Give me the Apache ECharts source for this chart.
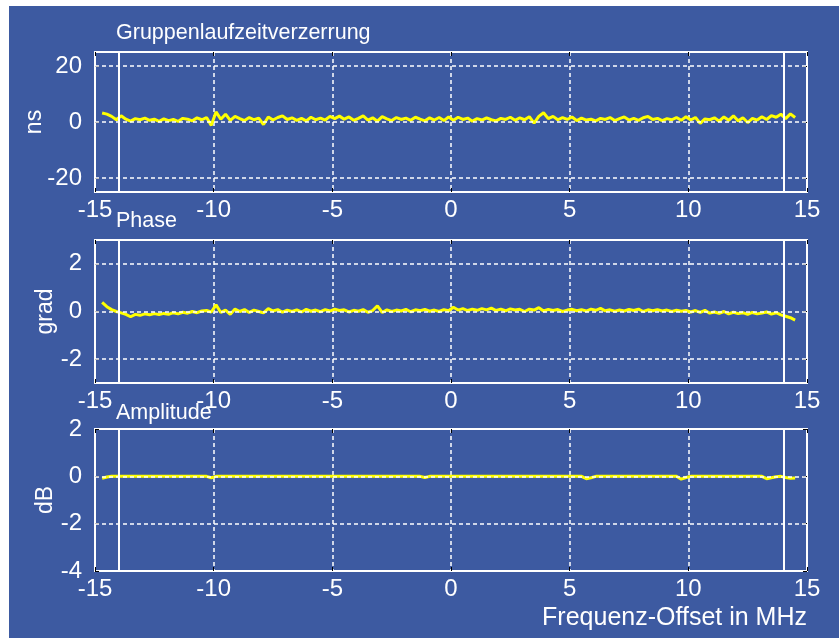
<!DOCTYPE html>
<html>
<head>
<meta charset="utf-8">
<script src="https://cdn.jsdelivr.net/npm/echarts@6/dist/echarts.min.js"></script>
<style>
html,body{margin:0;padding:0;background:#fff;}
#bg{position:absolute;left:9px;top:6px;width:830px;height:632px;background:#3d5aa1;}
#chart{position:absolute;left:0;top:0;width:839px;height:638px;}
</style>
</head>
<body>
<div id="bg"></div>
<div id="chart"></div>
<script>
// Frequency offsets (MHz)
const freq = [
  -14.7,-14.5,-14.3,-14.1,-13.9,-13.7,-13.5,-13.3,-13.1,-12.9,
  -12.7,-12.5,-12.3,-12.1,-11.9,-11.7,-11.5,-11.3,-11.1,-10.9,
  -10.7,-10.5,-10.3,-10.1,-9.9,-9.7,-9.5,-9.3,-9.1,-8.9,
  -8.7,-8.5,-8.3,-8.1,-7.9,-7.7,-7.5,-7.3,-7.1,-6.9,
  -6.7,-6.5,-6.3,-6.1,-5.9,-5.7,-5.5,-5.3,-5.1,-4.9,
  -4.7,-4.5,-4.3,-4.1,-3.9,-3.7,-3.5,-3.3,-3.1,-2.9,
  -2.7,-2.5,-2.3,-2.1,-1.9,-1.7,-1.5,-1.3,-1.1,-0.9,
  -0.7,-0.5,-0.3,-0.1,
  0.1,0.3,0.5,0.7,0.9,1.1,1.3,1.5,1.7,1.9,
  2.1,2.3,2.5,2.7,2.9,3.1,3.3,3.5,3.7,3.9,
  4.1,4.3,4.5,4.7,4.9,5.1,5.3,5.5,5.7,5.9,
  6.1,6.3,6.5,6.7,6.9,7.1,7.3,7.5,7.7,7.9,
  8.1,8.3,8.5,8.7,8.9,9.1,9.3,9.5,9.7,9.9,
  10.1,10.3,10.5,10.7,10.9,11.1,11.3,11.5,11.7,11.9,
  12.1,12.3,12.5,12.7,12.9,13.1,13.3,13.5,13.7,13.9,
  14.1,14.3,14.5
];
// Gruppenlaufzeitverzerrung (ns)
const groupDelay = [
  3.2,2.8,2.0,0.8,2.2,1.0,0.3,1.2,0.8,1.4,
  0.6,1.0,0.2,1.1,0.5,0.9,0.2,1.3,1.0,0.4,
  1.5,0.8,1.6,-1.2,3.6,1.0,2.8,0.6,2.0,1.2,
  0.5,1.6,0.8,1.4,-0.9,1.8,0.7,1.6,2.2,0.9,
  1.5,0.6,1.3,0.4,1.7,0.8,1.4,0.7,2.0,1.2,
  2.1,1.0,1.8,0.6,1.3,2.2,0.7,1.5,0.3,1.9,
  1.1,0.5,1.6,0.9,1.4,0.6,1.7,1.0,0.4,1.5,
  0.7,1.6,0.5,1.8,
  0.6,1.7,0.9,1.4,0.3,1.2,0.7,1.5,0.8,0.4,
  1.3,0.9,1.7,0.6,1.5,0.8,1.9,-0.4,2.0,3.3,
  1.2,2.0,0.8,1.6,0.9,1.8,0.5,1.4,0.7,1.0,
  0.4,1.3,0.9,1.6,0.5,1.2,1.8,0.7,1.3,0.6,
  1.5,2.0,0.9,1.3,0.5,1.2,0.8,1.6,0.6,1.9,
  0.7,1.6,-0.5,1.1,0.8,1.5,0.3,1.8,0.6,2.2,
  0.4,1.5,-0.2,1.3,0.7,1.9,0.9,2.3,1.7,2.8,
  1.2,2.9,1.6
];
// Phase (grad)
const phase = [
  0.38,0.2,0.08,0.0,-0.06,-0.12,-0.22,-0.12,-0.16,-0.1,
  -0.14,-0.09,-0.13,-0.08,-0.12,-0.05,-0.1,-0.03,-0.07,0.0,
  -0.05,0.02,0.04,-0.02,0.28,-0.04,0.06,-0.12,0.1,0.0,
  0.08,-0.04,0.06,0.0,-0.06,0.12,0.02,0.08,-0.03,0.06,
  0.0,0.07,-0.02,0.09,0.01,0.06,-0.01,0.08,0.02,0.1,
  0.04,0.07,-0.02,0.05,0.01,0.08,-0.03,0.04,0.24,-0.04,
  0.07,0.0,0.06,0.02,0.09,-0.01,0.07,0.03,0.09,0.01,
  0.06,0.0,0.08,0.03,
  0.18,0.06,0.12,0.04,0.1,0.05,0.12,0.07,0.14,0.04,
  0.1,0.03,0.11,0.06,0.09,0.0,0.1,0.06,0.16,0.02,
  0.09,0.04,0.08,0.0,0.06,0.09,0.03,0.08,0.02,0.1,
  0.05,0.13,0.03,0.07,0.01,0.06,0.02,0.09,0.04,0.1,
  0.0,0.07,0.03,0.08,0.02,0.06,0.0,0.05,0.01,0.04,
  -0.02,0.04,-0.04,0.05,-0.07,-0.02,-0.08,0.0,-0.1,-0.03,
  -0.09,-0.05,-0.12,-0.04,-0.1,-0.06,-0.02,-0.11,-0.05,-0.14,
  -0.2,-0.26,-0.36
];
// Amplitude (dB)
const amplitude = [
  -0.08,-0.03,0,0,0,0,0,0,0,0,
  0,0,0,0,0,0,0,0,0,0,
  0,0,0,-0.06,0,0,0,0,0,0,
  0,0,0,0,0,0,0,0,0,0,
  0,0,0,0,0,0,0,0,0,0,
  0,0,0,0,0,0,0,0,0,0,
  0,0,0,0,0,0,0,0,-0.05,0,
  0,0,0,0,
  0,0,0,0,0,0,0,0,0,0,
  0,0,0,0,0,0,0,0,0,0,
  0,0,0,0,0,0,0,0,-0.1,-0.06,
  0,0,0,0,0,0,0,0,0,0,
  0,0,0,0,0,0,0,0,-0.12,-0.05,
  0,0,0,0,0,0,0,0,0,0,
  0,0,0,0,0,0,-0.1,-0.06,-0.02,0,
  -0.05,-0.08,-0.07
];
const panelTitles = ['Gruppenlaufzeitverzerrung', 'Phase', 'Amplitude'];
const yNames = ['ns', 'grad', 'dB'];
const yTicks = [[-20, 0, 20], [-2, 0, 2], [-4, -2, 0, 2]];
const yRanges = [[-25, 25], [-3, 3], [-4, 2]];
const xTicks = [-15, -10, -5, 0, 5, 10, 15];
const markerFreqs = [-14, 14];
const xAxisTitle = 'Frequenz-Offset in MHz';

const FONT = 'Liberation Sans, Arial, sans-serif';
const WHITE = '#ffffff';
const grids = [
  {left: 95, top: 52, width: 712, height: 140},
  {left: 95, top: 240, width: 712, height: 143},
  {left: 95, top: 429, width: 712, height: 142}
].map(g => Object.assign(g, {show: true, borderColor: WHITE, borderWidth: 2, backgroundColor: 'transparent'}));

const dashStyle = {color: WHITE, width: 1.5, type: [4, 3]};
const blackTick = {show: true, inside: true, length: 4, lineStyle: {color: '#000', width: 1}};

const xAxes = [];
[0, 1, 2].forEach(i => {
  xAxes.push({
    type: 'value', gridIndex: i, min: -15, max: 15, interval: 5, position: 'bottom',
    axisLine: {show: false, onZero: false},
    axisTick: blackTick,
    axisLabel: {color: WHITE, fontSize: 24, fontFamily: FONT, margin: 6},
    splitLine: {show: true, showMinLine: false, showMaxLine: false, lineStyle: dashStyle}
  });
  xAxes.push({
    type: 'value', gridIndex: i, min: -15, max: 15, interval: 5, position: 'top',
    axisLine: {show: false, onZero: false},
    axisTick: blackTick,
    axisLabel: {show: false},
    splitLine: {show: false}
  });
});

const gaps = [49, 38, 38];
const yAxes = [];
[0, 1, 2].forEach(i => {
  yAxes.push({
    type: 'value', gridIndex: i, min: yRanges[i][0], max: yRanges[i][1], position: 'left',
    name: yNames[i], nameLocation: 'middle', nameRotate: 90, nameGap: gaps[i],
    nameMoveOverlap: false,
    nameTextStyle: {color: WHITE, fontSize: 23, fontFamily: FONT},
    axisLine: {show: false, onZero: false},
    axisTick: Object.assign({}, blackTick, {customValues: yTicks[i]}),
    axisLabel: {color: WHITE, fontSize: 24, fontFamily: FONT, margin: 13, customValues: yTicks[i]},
    splitLine: {show: false}
  });
  yAxes.push({
    type: 'value', gridIndex: i, min: yRanges[i][0], max: yRanges[i][1], position: 'right',
    axisLine: {show: false, onZero: false},
    axisTick: Object.assign({}, blackTick, {customValues: yTicks[i]}),
    axisLabel: {show: false},
    splitLine: {show: false}
  });
});

const seriesValues = [groupDelay, phase, amplitude];
const series = [];
seriesValues.forEach((vals, i) => {
  const pts = freq.map((f, k) => [f, vals[k]]);
  // horizontal dashed grid lines (drawn beneath the trace)
  series.push({
    type: 'line', xAxisIndex: 2 * i, yAxisIndex: 2 * i,
    data: pts, showSymbol: false, symbol: 'none',
    lineStyle: {opacity: 0, width: 0}, silent: true, z: 1,
    markLine: {
      silent: true, symbol: 'none', label: {show: false}, animation: false,
      lineStyle: dashStyle,
      data: yTicks[i].filter(v => v > yRanges[i][0] && v < yRanges[i][1]).map(v => ({yAxis: v}))
    }
  });
  series.push({
    type: 'line', xAxisIndex: 2 * i, yAxisIndex: 2 * i,
    data: pts, showSymbol: false, symbol: 'none',
    lineStyle: {color: '#ffff00', width: 3},
    z: 3,
    markLine: {
      silent: true, symbol: 'none', label: {show: false}, animation: false,
      lineStyle: {color: WHITE, width: 2, type: 'solid'},
      data: markerFreqs.map(v => ({xAxis: v}))
    }
  });
});

const titleYs = [34, 222, 414];
const graphic = panelTitles.map((t, i) => ({
  type: 'text', left: 116, top: titleYs[i] - 12,
  style: {text: t, fill: WHITE, font: '21.5px ' + FONT}
}));
graphic.push({
  type: 'text', right: 32, top: 606,
  style: {text: xAxisTitle, fill: WHITE, font: '25px ' + FONT}
});

const chart = echarts.init(document.getElementById('chart'), null, {renderer: 'canvas'});
chart.setOption({
  animation: false,
  backgroundColor: 'transparent',
  grid: grids,
  xAxis: xAxes,
  yAxis: yAxes,
  series: series,
  graphic: graphic
});
</script>
</body>
</html>
